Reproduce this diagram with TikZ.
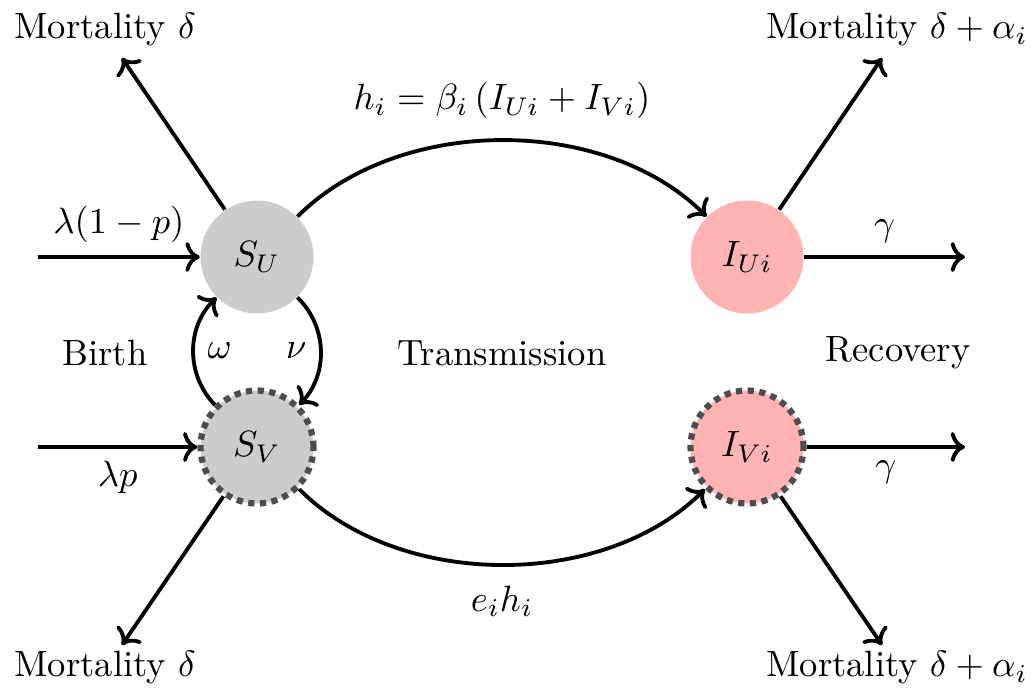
\documentclass[tikz,border=0pt]{standalone}
\usetikzlibrary{arrows.meta}
\definecolor{sgray}{HTML}{CCCCCC}
\definecolor{ipink}{HTML}{FFB3B3}
\definecolor{dborder}{HTML}{4D4D4D}
\begin{document}
\begin{tikzpicture}[x=0.0096154cm,y=-0.0096154cm,
  comp/.style={circle,minimum size=1.0865cm,inner sep=0pt},
  unvac/.style={comp,draw=none},
  vac/.style={comp,draw=dborder,line width=1.7pt,dash pattern=on 1.7pt off 1.5pt},
  flow/.style={line width=1.05pt,->},
  lbl/.style={inner sep=2pt}]
\useasboundingbox (0,0) rectangle (1033,690);
% compartments
\node[unvac,fill=sgray] (SU) at (257,257) {$S_U$};
\node[vac,fill=sgray] (SV) at (257,447) {$S_V$};
\node[unvac,fill=ipink] (IU) at (747,257) {$I_{Ui}$};
\node[vac,fill=ipink] (IV) at (747,447) {$I_{Vi}$};
% free ends
\coordinate (mtl) at (122,58);
\coordinate (mtr) at (882,58);
\coordinate (mbl) at (122,645);
\coordinate (mbr) at (882,645);
\coordinate (bu) at (38,257);
\coordinate (bv) at (38,447);
\coordinate (ru) at (965,257);
\coordinate (rv) at (965,447);
% texts
\node (tmtl) at (105,30) {Mortality $\delta$};
\node (tmtr) at (897,30) {Mortality $\delta+\alpha_i$};
\node (tmbl) at (105,668) {Mortality $\delta$};
\node (tmbr) at (897,668) {Mortality $\delta+\alpha_i$};
\node (birth) at (105,353) {Birth};
\node (trans) at (502,353) {Transmission};
\node (rec) at (898,353) {Recovery};
% mortality
\draw[flow] (SU) -- (mtl);
\draw[flow] (IU) -- (mtr);
\draw[flow] (SV) -- (mbl);
\draw[flow] (IV) -- (mbr);
% birth
\draw[flow] (bu) -- node[above] {$\lambda(1-p)$} (SU);
\draw[flow] (bv) -- node[below] {$\lambda p$} (SV);
% recovery
\draw[flow] (IU) -- node[above] {$\gamma$} (ru);
\draw[flow] (IV) -- node[below] {$\gamma$} (rv);
% waning / vaccination
\draw[flow] (SV) to[bend left=45] node[right] {$\omega$} (SU);
\draw[flow] (SU) to[bend left=45] node[left] {$\nu$} (SV);
% transmission
\draw[flow] (SU) to[out=45,in=135,looseness=0.9] node[above=2pt] {$h_i=\beta_i\left(I_{Ui}+I_{Vi}\right)$} (IU);
\draw[flow] (SV) to[out=-45,in=-135,looseness=0.9] node[below=2pt] {$e_ih_i$} (IV);
\end{tikzpicture}
\end{document}
